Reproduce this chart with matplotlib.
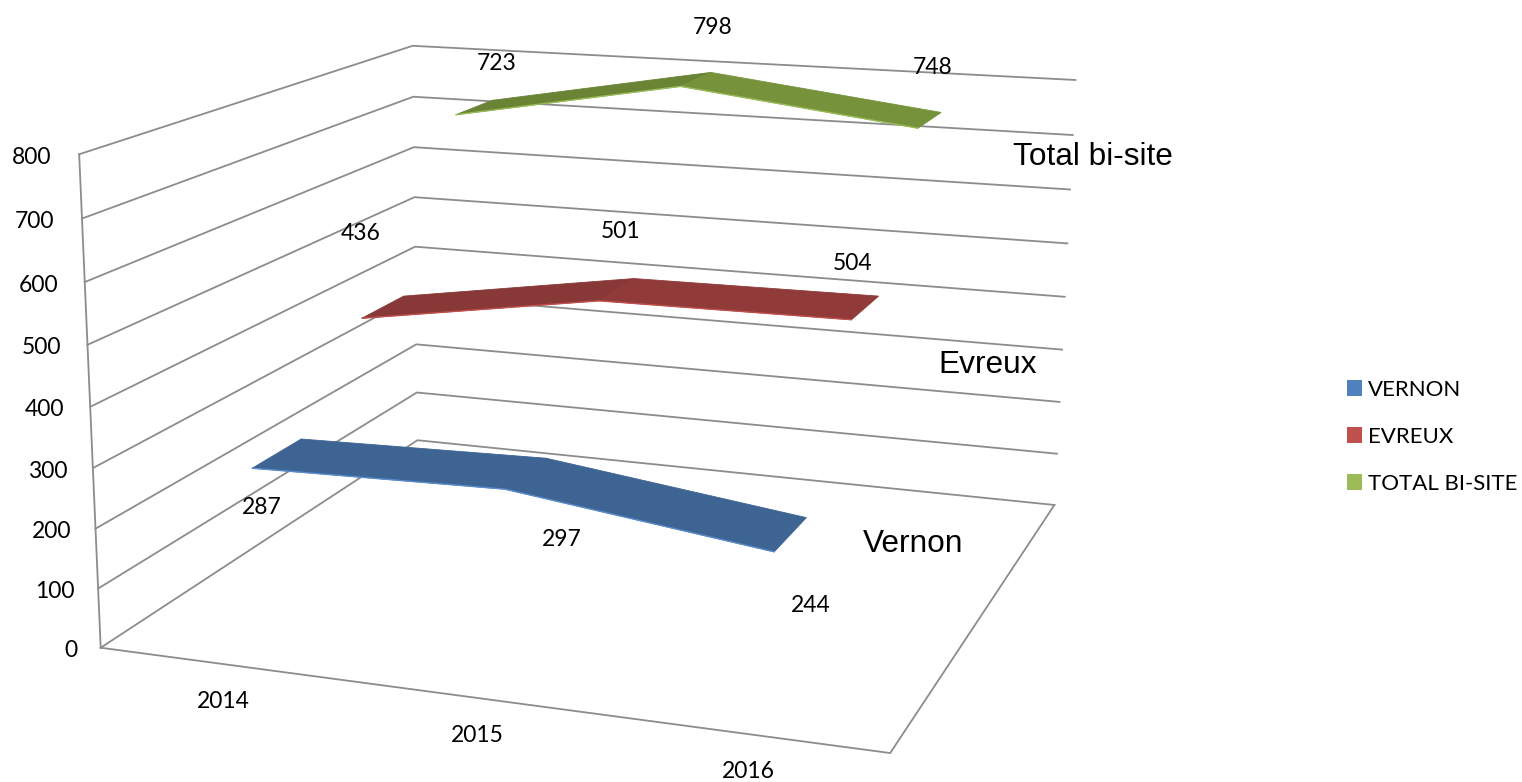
import numpy as np
import matplotlib
matplotlib.use("Agg")
import matplotlib.pyplot as plt
from matplotlib.patches import Patch, Polygon

years = ["2014", "2015", "2016"]
vernon = [287, 297, 244]
evreux = [436, 501, 504]
total = [723, 798, 748]
value_ticks = [0, 100, 200, 300, 400, 500, 600, 700, 800]
legend_names = ["VERNON", "EVREUX", "TOTAL BI-SITE"]
series_names = ["Vernon", "Evreux", "Total bi-site"]

# category position, series depth and value -> pixel, from the box corners
box_3d = [(0, 0, 0), (1, 0, 0), (1, 1, 0), (0, 1, 0), (0, 0, 1), (0, 1, 1), (1, 1, 1)]
box_px = [(102, 648), (890, 753), (1055, 505), (416, 440), (78, 154), (414, 46), (1075, 80)]

rows = []
for (a, b, c), (u, v) in zip(box_3d, box_px):
    rows.append([a, b, c, 1, 0, 0, 0, 0, -u * a, -u * b, -u * c, -u])
    rows.append([0, 0, 0, 0, a, b, c, 1, -v * a, -v * b, -v * c, -v])
cam = np.linalg.svd(np.array(rows, dtype=float))[2][-1].reshape(3, 4)


def project(cat, depth, value):
    h = cam @ np.array([cat, depth, value / 800, 1.0])
    return h[0] / h[2], h[1] / h[2]


fig = plt.figure(figsize=(15.22, 7.82), dpi=100)
ax = fig.add_axes([0, 0, 1, 1])
ax.set_xlim(0, 1522)
ax.set_ylim(782, 0)
ax.axis("off")

grid_col = "#8c8c8c"
grid_lw = 1.3
for v in value_ticks:
    pts = [project(0, 0, v), project(0, 1, v), project(1, 1, v)]
    ax.plot(*zip(*pts), color=grid_col, lw=grid_lw, zorder=1)
ax.plot(*zip(project(0, 0, 0), project(0, 0, 800)), color=grid_col, lw=grid_lw, zorder=1)
floor = [project(0, 0, 0), project(1, 0, 0), project(1, 1, 0)]
ax.plot(*zip(*floor), color=grid_col, lw=grid_lw, zorder=1)

series = [vernon, evreux, total]
depths = [1 / 6, 1 / 2, 5 / 6]
half_width = 0.07
cat_pos = [1 / 6, 1 / 2, 5 / 6]
top_cols = [("#3e6494", "#3e6494"), ("#883836", "#903a39"), ("#698434", "#76933c")]
edge_cols = ["#5b8ccb", "#c0504d", "#9bbb59"]

for vals, d, tops, edge in zip(series, depths, top_cols, edge_cols):
    for j in range(2):
        quad = [project(cat_pos[j], d - half_width, vals[j]),
                project(cat_pos[j + 1], d - half_width, vals[j + 1]),
                project(cat_pos[j + 1], d + half_width, vals[j + 1]),
                project(cat_pos[j], d + half_width, vals[j])]
        ax.add_patch(Polygon(quad, closed=True, fc=tops[j], ec=tops[j], lw=0.6, zorder=3))
    front = [project(c, d - half_width, v) for c, v in zip(cat_pos, vals)]
    ax.plot(*zip(*front), color=edge, lw=1.0, zorder=4, solid_capstyle="round")

label_font = "Lato"
label_size = 16.5
for v in value_ticks:
    x, y = project(0, 0, v)
    ax.text(x - 23 - 5 * v / 800, y + 3, str(v), ha="right", va="center",
            fontsize=label_size, family=label_font, color="black")

year_xy = [(223, 700), (477, 735), (748, 771)]
for name, (x, y) in zip(years, year_xy):
    ax.text(x, y + 1, name, ha="center", va="center", fontsize=label_size, family=label_font)

# value labels sit apart from the ribbons
value_xy = [[(262, 506), (562, 538), (811, 604)],
            [(361, 233), (621, 230), (853, 262)],
            [(497, 63), (713, 26), (933, 67)]]
for vals, spots in zip(series, value_xy):
    for v, (x, y) in zip(vals, spots):
        ax.text(x, y + 1, str(v), ha="center", va="center", fontsize=label_size, family=label_font)

name_xy = [(863, 541), (938, 362), (1013, 154)]
for name, (x, y) in zip(series_names, name_xy):
    ax.text(x, y + 3, name, ha="left", va="center", fontsize=22.8, family="Liberation Sans")

handles = [Patch(fc=c, ec="none", label=n)
           for c, n in zip(["#4f81bd", "#c0504d", "#9bbb59"], legend_names)]
leg = ax.legend(handles=handles, loc="center left", bbox_to_anchor=(1347 / 1522, 1 - 437 / 782),
                frameon=False, prop={"family": label_font, "size": 16},
                handlelength=0.68, handleheight=0.72, handletextpad=0.27, labelspacing=1.22,
                borderpad=0, borderaxespad=0)

fig.savefig("out.png", dpi=100, facecolor="white")
